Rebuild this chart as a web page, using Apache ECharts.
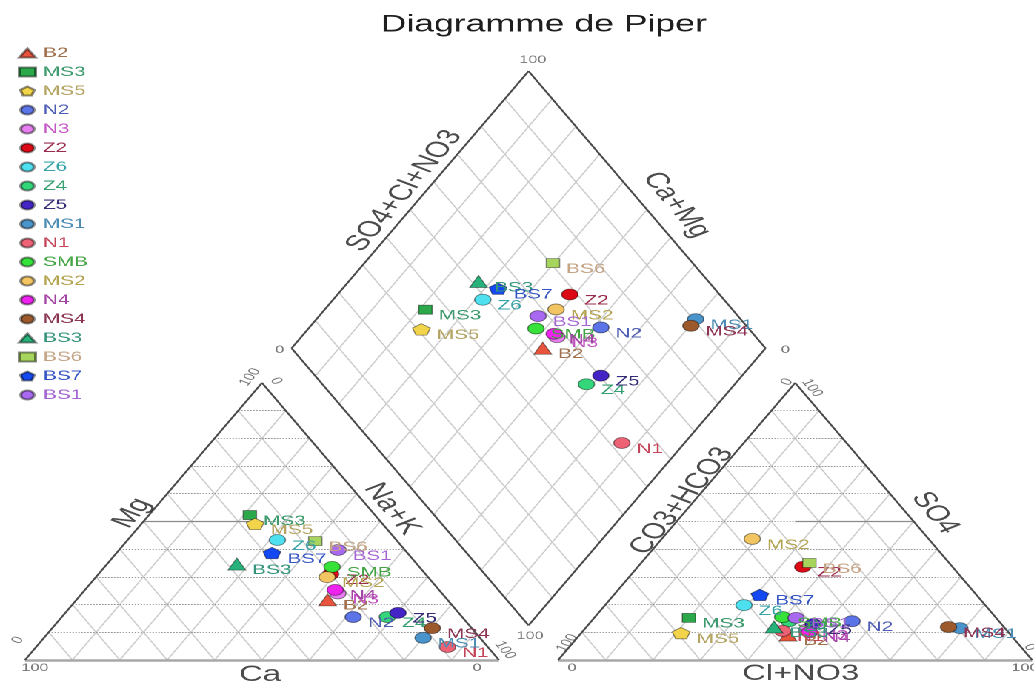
<!DOCTYPE html>
<html>
<head>
<meta charset="utf-8">
<title>Diagramme de Piper</title>
<script src="https://cdn.jsdelivr.net/npm/echarts@6/dist/echarts.min.js"></script>
<style>
  html, body { margin: 0; padding: 0; background: #fff; overflow: hidden; }
  /* the reference is a piper plot stretched sideways, so draw it equilateral and stretch the box */
  #chart { width: 698px; height: 688px; transform: scaleX(1.4814); transform-origin: 0 0; }
</style>
</head>
<body>
<div id="chart"></div>
<script>
var samples = ['B2', 'MS3', 'MS5', 'N2', 'N3', 'Z2', 'Z6', 'Z4', 'Z5', 'MS1', 'N1', 'SMB', 'MS2', 'N4', 'MS4', 'BS3', 'BS6', 'BS7', 'BS1'];
// cations, % meq
var ca  = [25.3, 26.4, 26.9, 23.0, 22.0, 20.0, 25.1, 15.8, 12.8, 12.0,  8.5, 18.4, 21.3, 21.9,  8.3, 38.0, 17.3, 28.6, 14.1];
var mg  = [21.7, 52.3, 49.1, 15.5, 24.0, 31.0, 43.3, 15.5, 17.0,  8.0,  4.7, 33.6, 29.9, 25.3, 11.5, 34.6, 42.9, 38.6, 39.7];
var nak = [53.0, 21.3, 24.0, 61.5, 54.0, 49.0, 31.6, 68.7, 70.2, 80.0, 86.8, 48.0, 48.8, 52.8, 80.2, 27.4, 39.8, 32.8, 46.2];
// anions, % meq
var hco3 = [47.0, 64.8, 69.2, 31.0, 42.0, 31.6, 50.9, 44.3, 39.7,  9.5, 47.4, 44.9, 37.2, 42.0, 11.7, 48.5, 29.5, 45.7, 42.2];
var so4  = [ 9.0, 15.2,  9.7, 14.0, 11.0, 33.6, 19.8, 14.0, 13.0, 11.5, 10.5, 15.5, 43.7, 10.0, 11.9, 11.9, 35.0, 23.5, 15.2];
var cl   = [44.0, 20.0, 21.1, 55.0, 47.0, 34.8, 29.3, 41.7, 47.3, 79.0, 42.1, 39.6, 19.1, 48.0, 76.4, 39.6, 35.5, 30.8, 42.6];

var ticks = [10, 20, 30, 40, 50, 60, 70, 80, 90];
var axisNames = ['Mg', 'Na+K', 'Ca', 'CO3+HCO3', 'SO4', 'Cl+NO3', 'SO4+Cl+NO3', 'Ca+Mg'];

var pentagon = 'path://M50,0 L97.5,34.5 L79.4,90.5 L20.6,90.5 L2.5,34.5 Z';
var symbols = ['triangle', 'rect', pentagon, 'circle', 'circle', 'circle', 'circle', 'circle', 'circle', 'circle',
  'circle', 'circle', 'circle', 'circle', 'circle', 'triangle', 'rect', pentagon, 'circle'];
var colors = ['#e8553c', '#2aa84a', '#f2d44a', '#5b74e8', '#e67ef0', '#dc0a14', '#4ee0ee', '#34d67a', '#4424c4', '#4a94cc',
  '#ee6276', '#36e23a', '#f2c462', '#ee22ee', '#9c5a2c', '#26b27a', '#a6d45c', '#1448f0', '#a868f0'];
var textColors = ['#a0704c', '#3c9a6c', '#b4a462', '#4c5cb4', '#c455c4', '#9a2c4c', '#38a4a8', '#34a070', '#342c74', '#4c8cb4',
  '#c44458', '#44a444', '#b4a452', '#a444a4', '#8c3454', '#34947c', '#c4a484', '#3454c4', '#a464d4'];

var FONT = 'Liberation Sans, Arial, sans-serif';
var G = 12.5;              // gap between the two triangles
var H = Math.sqrt(3) / 2;

// ternary -> plane
function cat(c, m, n) { return [n + m / 2, m * H]; }
function an(h, s, c) { return [100 + G + c + s / 2, s * H]; }
function dia(caMg, so4Cl) { return [100 + G / 2 + 0.5 * (so4Cl - caMg), G * H + H * (so4Cl + caMg)]; }

function seg(a, b) { return { coords: [a, b] }; }

var edges = [
  seg(cat(100, 0, 0), cat(0, 100, 0)), seg(cat(0, 100, 0), cat(0, 0, 100)),
  seg(an(100, 0, 0), an(0, 100, 0)), seg(an(0, 100, 0), an(0, 0, 100)),
  seg(dia(0, 0), dia(100, 0)), seg(dia(100, 0), dia(100, 100)),
  seg(dia(100, 100), dia(0, 100)), seg(dia(0, 100), dia(0, 0))
];
var bases = [seg(cat(100, 0, 0), cat(0, 0, 100)), seg(an(100, 0, 0), an(0, 0, 100))];
var dotted = [], diag = [];
ticks.forEach(function (t) {
  dotted.push(seg(cat(100 - t, t, 0), cat(0, t, 100 - t)));
  dotted.push(seg(an(100 - t, t, 0), an(0, t, 100 - t)));
  diag.push(seg(cat(t, 0, 100 - t), cat(t, 100 - t, 0)));
  diag.push(seg(cat(100 - t, 0, t), cat(0, 100 - t, t)));
  diag.push(seg(an(t, 0, 100 - t), an(t, 100 - t, 0)));
  diag.push(seg(an(100 - t, 0, t), an(0, 100 - t, t)));
  diag.push(seg(dia(t, 0), dia(t, 100)));
  diag.push(seg(dia(0, t), dia(100, t)));
});
var facies = [seg(cat(50, 50, 0), cat(25, 50, 25)), seg(an(25, 50, 25), an(0, 50, 50))];

function shift(p, dx, dy) { return [p[0] + dx, p[1] + dy]; }

var L0 = cat(100, 0, 0), L1 = cat(0, 0, 100), L2 = cat(0, 100, 0);
var R0 = an(100, 0, 0), R1 = an(0, 0, 100), R2 = an(0, 100, 0);
var tickLabels = [
  { value: shift(L0, 2.1, -2.5), name: '100', r: 0 },
  { value: shift(L0, -1.5, 6.2), name: '0', r: 60 },
  { value: shift(L2, -2.5, 1.8), name: '100', r: 60 },
  { value: shift(L2, 3.0, 0.6), name: '0', r: -60 },
  { value: shift(L1, -4.6, -2.5), name: '0', r: 0 },
  { value: shift(L1, 1.3, 3.1), name: '100', r: -60 },
  { value: shift(R0, 1.9, 5.3), name: '100', r: 60 },
  { value: shift(R0, 2.9, -2.5), name: '0', r: 0 },
  { value: shift(R2, -1.7, 0.3), name: '0', r: 60 },
  { value: shift(R2, 3.6, -1.6), name: '100', r: -60 },
  { value: shift(R1, -1.5, -2.5), name: '100', r: 0 },
  { value: shift(R1, -0.5, 4.0), name: '0', r: -60 },
  { value: shift(dia(100, 100), 0.9, 3.5), name: '100', r: 0 },
  { value: shift(dia(100, 0), -2.5, -0.5), name: '0', r: 0 },
  { value: shift(dia(0, 100), 4.2, -0.5), name: '0', r: 0 },
  { value: shift(dia(0, 0), 0.3, -3.3), name: '100', r: 0 }
].map(function (d) {
  return { value: d.value, name: d.name, label: { rotate: d.r } };
});

var axisTitles = [
  { value: shift(cat(50, 50, 0), -2.4, 2.6), r: 60 },
  { value: shift(cat(0, 50, 50), 2.4, 3.9), r: -60 },
  { value: shift(cat(50, 0, 50), -0.4, -4.6), r: 0 },
  { value: shift(an(50, 50, 0), 1.1, 6.4), r: 60 },
  { value: shift(an(0, 50, 50), 4.5, 2.7), r: -60 },
  { value: shift(an(50, 0, 50), 1.2, -4.4), r: 0 },
  { value: shift(dia(100, 50), -1.2, 5.9), r: 60 },
  { value: shift(dia(50, 100), 6.2, 1.5), r: -60 }
].map(function (d, i) {
  return { value: d.value, name: axisNames[i], label: { rotate: d.r } };
});

var series = [
  { type: 'lines', coordinateSystem: 'cartesian2d', silent: true, z: 1, data: diag,
    lineStyle: { color: '#cccccc', width: 1, opacity: 1 } },
  { type: 'lines', coordinateSystem: 'cartesian2d', silent: true, z: 1, data: dotted,
    lineStyle: { color: '#999999', width: 1, type: 'dotted', opacity: 1 } },
  { type: 'lines', coordinateSystem: 'cartesian2d', silent: true, z: 2, data: facies,
    lineStyle: { color: '#8a8a8a', width: 1.2, opacity: 1 } },
  { type: 'lines', coordinateSystem: 'cartesian2d', silent: true, z: 2, data: bases,
    lineStyle: { color: '#a8a8a8', width: 2.6, opacity: 1 } },
  { type: 'lines', coordinateSystem: 'cartesian2d', silent: true, z: 3, data: edges,
    lineStyle: { color: '#4a4a4a', width: 1.4, opacity: 1 } },
  { type: 'scatter', silent: true, symbolSize: 0, z: 4, data: tickLabels,
    label: { show: true, position: 'inside', formatter: '{b}', fontSize: 11, color: '#555', fontFamily: FONT } },
  { type: 'scatter', silent: true, symbolSize: 0, z: 4, data: axisTitles,
    label: { show: true, position: 'inside', formatter: '{b}', fontSize: 22, color: '#1e1e1e', fontFamily: FONT } }
];

samples.forEach(function (name, i) {
  var isRect = symbols[i] === 'rect';
  series.push({
    name: name,
    type: 'scatter',
    z: 10,
    clip: false,
    symbol: symbols[i],
    symbolKeepAspect: true,
    symbolSize: isRect ? 9 : (symbols[i] === 'circle' ? 11 : 12),
    itemStyle: { color: colors[i], borderColor: 'rgba(0,0,0,0.45)', borderWidth: 0.8, opacity: 1 },
    label: {
      show: true, position: 'right', distance: 4, offset: [0, 6],
      formatter: name, fontSize: 14, color: textColors[i], fontFamily: FONT
    },
    data: [
      cat(ca[i], mg[i], nak[i]),
      an(hco3[i], so4[i], cl[i]),
      dia(ca[i] + mg[i], so4[i] + cl[i])
    ]
  });
});

var chart = echarts.init(document.getElementById('chart'), null, { devicePixelRatio: 2 });
chart.setOption({
  animation: false,
  backgroundColor: '#fff',
  title: {
    text: 'Diagramme de Piper', left: 252, top: 8,
    textStyle: { fontSize: 24, fontWeight: 'normal', color: '#1e1e1e', fontFamily: FONT }
  },
  legend: {
    orient: 'vertical', left: 7, top: 41, itemWidth: 11, itemHeight: 9, itemGap: 5,
    selectedMode: false,
    textStyle: { fontSize: 14, fontFamily: FONT },
    data: samples.map(function (s, i) { return { name: s, textStyle: { color: textColors[i] } }; })
  },
  grid: { left: 0, right: 0, top: 0, bottom: 0 },
  xAxis: { type: 'value', min: -5.275, max: 212.9, show: false, splitLine: { show: false } },
  yAxis: { type: 'value', min: -8.75, max: 206.25, show: false, splitLine: { show: false } },
  series: series
});
</script>
</body>
</html>
